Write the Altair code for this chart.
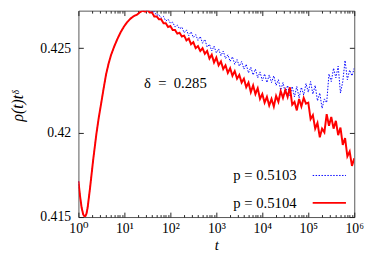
import altair as alt
import pandas as pd

FONT = "'Liberation Serif', 'Times New Roman', 'DejaVu Serif', serif"

series_names = ["p = 0.5103", "p = 0.5104"]
series_colors = ["#0000ff", "#ff0000"]

# shared early-time part (both runs coincide): log10(t) and rho(t) t^delta
rise_exp = [0.00, 0.035, 0.07, 0.105, 0.143, 0.175, 0.20, 0.25, 0.32, 0.389, 0.44, 0.496, 0.55,
            0.602, 0.655, 0.709, 0.78, 0.851, 0.92, 0.994, 1.06, 1.134, 1.20, 1.277, 1.33]
rise_val = [0.41712, 0.41625, 0.41555, 0.41515, 0.41500, 0.41520, 0.41555, 0.41666, 0.41837, 0.41989,
            0.42085, 0.42176, 0.42265, 0.42346, 0.42408, 0.42460, 0.42512, 0.42557, 0.42596, 0.42630,
            0.42655, 0.42676, 0.42690, 0.42700, 0.42712]

# later, noisy part (log10 t)
tail_exp = [1.40, 1.45, 1.50, 1.55, 1.60, 1.65, 1.70, 1.75, 1.80, 1.85,
            1.90, 1.95, 2.00, 2.05, 2.10, 2.15, 2.20, 2.25, 2.30, 2.35,
            2.40, 2.45, 2.50, 2.55, 2.60, 2.65, 2.70, 2.75, 2.80, 2.85,
            2.90, 2.95, 3.00, 3.05, 3.10, 3.15, 3.20, 3.25, 3.30, 3.35,
            3.40, 3.45, 3.50, 3.55, 3.60, 3.65, 3.70, 3.75, 3.80, 3.85,
            3.90, 3.95, 4.00, 4.05, 4.10, 4.15, 4.20, 4.25, 4.30, 4.35,
            4.40, 4.45, 4.50, 4.55, 4.60, 4.65, 4.70, 4.75, 4.80, 4.85,
            4.90, 4.95, 5.00, 5.05, 5.10, 5.15, 5.20, 5.25, 5.30, 5.35,
            5.40, 5.45, 5.50, 5.55, 5.60, 5.65, 5.70, 5.75, 5.80, 5.85,
            5.90, 5.95, 6.00]

blue_tail = [0.42723, 0.42729, 0.42723, 0.42729, 0.42712, 0.42717, 0.42695, 0.42700, 0.42678, 0.42689,
             0.42661, 0.42672, 0.42649, 0.42655, 0.42626, 0.42638, 0.42615, 0.42626, 0.42592, 0.42609,
             0.42575, 0.42598, 0.42564, 0.42581, 0.42547, 0.42570, 0.42530, 0.42553, 0.42507, 0.42524,
             0.42484, 0.42513, 0.42473, 0.42496, 0.42456, 0.42484, 0.42439, 0.42462, 0.42422, 0.42450,
             0.42405, 0.42433, 0.42394, 0.42422, 0.42377, 0.42405, 0.42354, 0.42388, 0.42342, 0.42377,
             0.42325, 0.42360, 0.42308, 0.42348, 0.42297, 0.42342, 0.42297, 0.42337, 0.42280, 0.42314,
             0.42252, 0.42297, 0.42235, 0.42280, 0.42218, 0.42274, 0.42212, 0.42274, 0.42206, 0.42269,
             0.42223, 0.42291, 0.42240, 0.42303, 0.42229, 0.42280, 0.42189, 0.42235, 0.42144, 0.42200,
             0.42178, 0.42348, 0.42303, 0.42382, 0.42325, 0.42394, 0.42235, 0.42303, 0.42428, 0.42314,
             0.42371, 0.42337, 0.42382]

red_tail = [0.42723, 0.42717, 0.42729, 0.42712, 0.42712, 0.42689, 0.42689, 0.42672, 0.42672, 0.42649,
            0.42649, 0.42626, 0.42632, 0.42609, 0.42609, 0.42587, 0.42592, 0.42570, 0.42575, 0.42547,
            0.42558, 0.42524, 0.42536, 0.42501, 0.42513, 0.42484, 0.42501, 0.42467, 0.42484, 0.42439,
            0.42462, 0.42416, 0.42445, 0.42399, 0.42422, 0.42377, 0.42399, 0.42354, 0.42382, 0.42337,
            0.42365, 0.42320, 0.42342, 0.42297, 0.42320, 0.42269, 0.42297, 0.42240, 0.42280, 0.42229,
            0.42263, 0.42200, 0.42229, 0.42178, 0.42212, 0.42161, 0.42200, 0.42155, 0.42218, 0.42183,
            0.42246, 0.42206, 0.42252, 0.42212, 0.42269, 0.42166, 0.42183, 0.42132, 0.42200, 0.42155,
            0.42206, 0.42172, 0.42178, 0.42081, 0.42104, 0.42024, 0.42058, 0.41973, 0.42024, 0.42002,
            0.42110, 0.42041, 0.42093, 0.42024, 0.42070, 0.41985, 0.42030, 0.41928, 0.41968, 0.41860,
            0.41888, 0.41803, 0.41848]

x_major = [1, 10, 100, 1000, 10000, 100000, 1000000]
x_minor = [m * 10 ** k for k in range(6) for m in range(2, 10)]
y_ticks = [0.415, 0.42, 0.425]
superscripts = ["\u2070", "\u00b9", "\u00b2", "\u00b3", "\u2074", "\u2075", "\u2076"]

note_text = ["\u03b4\u2002=\u20020.285"]
note_t = [26.6]
note_v = [0.42265]

rows = []
for name, tail in zip(series_names, [blue_tail, red_tail]):
    for e, v in zip(rise_exp + tail_exp, rise_val + tail):
        rows.append({"t": 10 ** e, "v": v, "series": name})
df = pd.DataFrame(rows)
note_df = pd.DataFrame({"t": note_t, "v": note_v, "label": note_text})

W, H = 282, 211
xs = alt.Scale(type="log", domain=[1, 1e6], nice=False)
ys = alt.Scale(domain=[0.415, 0.42723], zero=False, nice=False)

sup_js = "[" + ",".join("'%s'" % s for s in superscripts) + "]"
major_test = "abs(log(datum.value)/LN10 - round(log(datum.value)/LN10)) < 0.001"

axA = alt.Axis(orient="bottom", values=x_major,
               labelExpr="'10' + " + sup_js + "[round(log(datum.value)/LN10)]",
               tickSize=0, domain=False, grid=False, labelFlush=False,
               labelBaseline="alphabetic", labelPadding=16,
               labelFont=FONT, labelFontSize=14, labelColor="black",
               title="t", titleFont=FONT, titleFontStyle="italic", titleFontWeight="normal",
               titleFontSize=15, titleColor="black", titleBaseline="alphabetic", titleY=33)
axD = alt.Axis(orient="left", values=y_ticks, format=".3~f",
               tickSize=0, domain=False, grid=False, labelFlush=False, labelPadding=8,
               labelFont=FONT, labelFontSize=14, labelColor="black",
               title="\u03c1(t)t\u1d5f", titleFont=FONT, titleFontStyle="italic",
               titleFontWeight="normal", titleFontSize=16, titleColor="black",
               titleAngle=270, titleBaseline="alphabetic", titleAlign="center",
               titleX=-57, titleY=97)

tick_common = dict(labels=False, domain=False, grid=False, title=None, tickColor="#222", tickWidth=1)
tsize = {"condition": {"test": major_test, "value": 5}, "value": 2.5}
axB = alt.Axis(orient="top", offset=-H, values=x_major + x_minor, tickSize=tsize, **tick_common)
axC = alt.Axis(orient="bottom", offset=-H, values=x_major + x_minor, tickSize=tsize, **tick_common)
axE = alt.Axis(orient="right", offset=-W, values=y_ticks, tickSize=5, **tick_common)
axF = alt.Axis(orient="left", offset=-W, values=y_ticks, tickSize=5, **tick_common)

# legend: labels on the left, line samples drawn to the right of them
leg = alt.Legend(title=None, orient="none", legendX=208, legendY=161,
                 symbolType="M12,0H29", symbolSize=16,
                 labelAlign="right", labelOffset=0, labelFont=FONT, labelFontSize=15,
                 labelColor="black", rowPadding=12, padding=0, labelLimit=0)

lines = alt.Chart(df).mark_line(clip=True).encode(
    x=alt.X("t:Q", scale=xs, axis=axA),
    y=alt.Y("v:Q", scale=ys, axis=axD),
    color=alt.Color("series:N", scale=alt.Scale(domain=series_names, range=series_colors), legend=leg),
    strokeDash=alt.StrokeDash("series:N", scale=alt.Scale(domain=series_names, range=[[1.5, 1.5], [1, 0]]), legend=leg),
    strokeWidth=alt.StrokeWidth("series:N", scale=alt.Scale(domain=series_names, range=[1.0, 2.0]), legend=leg),
)

ghost = alt.Chart(note_df).mark_point(opacity=0).encode(
    x=alt.X("t:Q", scale=xs, axis=axB),
    y=alt.Y("v:Q", scale=ys, axis=axE),
)

note = alt.Chart(note_df).mark_text(align="left", baseline="alphabetic", font=FONT, fontSize=15,
                                    color="black").encode(
    x=alt.X("t:Q", scale=xs, axis=axC),
    y=alt.Y("v:Q", scale=ys, axis=axF),
    text="label:N",
)

chart = alt.layer(lines, ghost, note).resolve_axis(
    x="independent", y="independent"
).properties(
    width=W, height=H,
    autosize=alt.AutoSizeParams(type="none"),
    padding={"left": 72, "top": 0, "right": 12, "bottom": 33},
).configure_view(stroke="#555555", strokeWidth=1)

chart.save("out.html", embed_options={"renderer": "svg", "actions": False})
